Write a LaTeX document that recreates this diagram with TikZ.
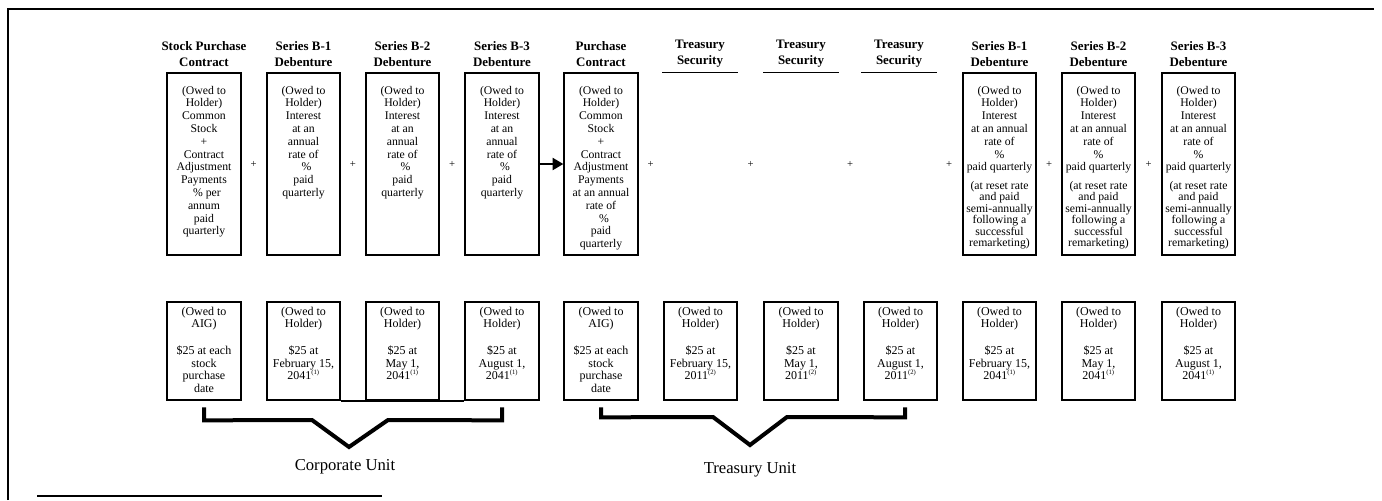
\documentclass[tikz,border=0pt]{standalone}
\usepackage{fontspec}
\setmainfont{Liberation Serif}
\usetikzlibrary{arrows.meta,calc}

\tikzset{
  termbox/.style={draw, line width=1.5pt, minimum width=55pt, minimum height=137pt},
  paybox/.style={draw, line width=1.5pt, minimum width=55pt, minimum height=74pt},
  slot/.style={minimum width=56pt, minimum height=137pt},
  head/.style={font=\bfseries\fontsize{9.7}{12}\selectfont, align=center},
  boxtxt/.style={font=\fontsize{8.8}{9.6}\selectfont, align=center, anchor=north},
  resettxt/.style={font=\fontsize{8.8}{8.6}\selectfont, align=center, anchor=north},
  paytxt/.style={font=\fontsize{9}{9.4}\selectfont, align=center, anchor=north},
  plus/.style={font=\fontsize{8}{8}\selectfont},
  feed/.style={line width=1.5pt, -{Triangle[length=8pt,width=9pt]}},
  bracket/.style={line width=3pt, line join=miter},
  unitname/.style={font=\fontsize{12.5}{14}\selectfont}
}
\newcommand{\fn}[1]{\textsuperscript{\tiny(#1)}}

\begin{document}
\begin{tikzpicture}[x=0.75pt,y=-0.75pt]
\tikzstyle{every node}+=[inner sep=0pt]
\useasboundingbox (0,0) rectangle (1382,500);
% frame and footnote rule
\draw[line width=1.1pt] (8,500) -- (8,9) -- (1374,9);
\draw[line width=1.5pt] (37,496) -- (382,496);

% headings
\node[head] (h1) at (204,54) {Stock Purchase\\Contract};
\node[head] (h2) at (303.5,54) {Series B-1\\Debenture};
\node[head] (h3) at (402.5,54) {Series B-2\\Debenture};
\node[head] (h4) at (502,54) {Series B-3\\Debenture};
\node[head] (h5) at (601,54) {Purchase\\Contract};
\node[head] (h6) at (700,54) {Treasury\\Security};
\node[head] (h7) at (801,54) {Treasury\\Security};
\node[head] (h8) at (899,54) {Treasury\\Security};
\node[head] (h9) at (999.5,54) {Series B-1\\Debenture};
\node[head] (h10) at (1098.5,54) {Series B-2\\Debenture};
\node[head] (h11) at (1198.5,54) {Series B-3\\Debenture};

% upper row: what is paid
\node[termbox] (pc1) at (204,164) {};
\node[termbox] (pc2) at (303.5,164) {};
\node[termbox] (pc3) at (402.5,164) {};
\node[termbox] (pc4) at (502,164) {};
\node[termbox] (pc5) at (601,164) {};
\node[slot] (ts1) at (700,164) {};
\node[slot] (ts2) at (801,164) {};
\node[slot] (ts3) at (899,164) {};
\node[termbox] (pc9) at (999.5,164) {};
\node[termbox] (pc10) at (1098.5,164) {};
\node[termbox] (pc11) at (1198.5,164) {};
\draw[line width=1pt] (ts1.north west) -- (ts1.north east);
\draw[line width=1pt] (ts2.north west) -- (ts2.north east);
\draw[line width=1pt] (ts3.north west) -- (ts3.north east);

\node[boxtxt] (pc1t) at ([yshift=-10.5pt]pc1.north) {(Owed to\\Holder)\\Common\\Stock\\+\\Contract\\Adjustment\\Payments\\\ \ \% per\\annum\\paid\\quarterly};
\node[boxtxt] (pc2t) at ([yshift=-10.5pt]pc2.north) {(Owed to\\Holder)\\Interest\\at an\\annual\\rate of\\\ \ \%\\paid\\quarterly};
\node[boxtxt] (pc3t) at ([yshift=-10.5pt]pc3.north) {(Owed to\\Holder)\\Interest\\at an\\annual\\rate of\\\ \ \%\\paid\\quarterly};
\node[boxtxt] (pc4t) at ([yshift=-10.5pt]pc4.north) {(Owed to\\Holder)\\Interest\\at an\\annual\\rate of\\\ \ \%\\paid\\quarterly};
\node[boxtxt] (pc5t) at ([yshift=-10.5pt]pc5.north) {(Owed to\\Holder)\\Common\\Stock\\+\\Contract\\Adjustment\\Payments\\at an annual\\rate of\\\ \ \%\\paid\\quarterly};
\node[boxtxt] (pc9t) at ([yshift=-10.5pt]pc9.north) {(Owed to\\Holder)\\Interest\\at an annual\\rate of\\\%\\paid quarterly};
\node[boxtxt] (pc10t) at ([yshift=-10.5pt]pc10.north) {(Owed to\\Holder)\\Interest\\at an annual\\rate of\\\%\\paid quarterly};
\node[boxtxt] (pc11t) at ([yshift=-10.5pt]pc11.north) {(Owed to\\Holder)\\Interest\\at an annual\\rate of\\\%\\paid quarterly};
\node[resettxt] (pc9r) at ([yshift=-82pt]pc9.north) {(at reset rate\\and paid\\semi-annually\\following a\\successful\\remarketing)};
\node[resettxt] (pc10r) at ([yshift=-82pt]pc10.north) {(at reset rate\\and paid\\semi-annually\\following a\\successful\\remarketing)};
\node[resettxt] (pc11r) at ([yshift=-82pt]pc11.north) {(at reset rate\\and paid\\semi-annually\\following a\\successful\\remarketing)};

% plus signs and the arrow
\node[plus] (p12) at ($(pc1.east)!.5!(pc2.west)$) {+};
\node[plus] (p23) at ($(pc2.east)!.5!(pc3.west)$) {+};
\node[plus] (p34) at ($(pc3.east)!.5!(pc4.west)$) {+};
\node[plus] (p56) at ($(pc5.east)!.5!(ts1.west)$) {+};
\node[plus] (p67) at ($(ts1.east)!.5!(ts2.west)$) {+};
\node[plus] (p78) at ($(ts2.east)!.5!(ts3.west)$) {+};
\node[plus] (p89) at ($(ts3.east)!.5!(pc9.west)$) {+};
\node[plus] (p910) at ($(pc9.east)!.5!(pc10.west)$) {+};
\node[plus] (p1011) at ($(pc10.east)!.5!(pc11.west)$) {+};
\draw[feed] (pc4.east) -- (pc5.west);

% lower row: what is owed at the end
\node[paybox] (pb1) at (204,351) {};
\node[paybox] (pb2) at (303.5,351) {};
\node[paybox] (pb3) at (402.5,351) {};
\node[paybox] (pb4) at (502,351) {};
\node[paybox] (pb5) at (601,351) {};
\node[paybox] (pb6) at (700.5,351) {};
\node[paybox] (pb7) at (801,351) {};
\node[paybox] (pb8) at (900.5,351) {};
\node[paybox] (pb9) at (999.5,351) {};
\node[paybox] (pb10) at (1098.5,351) {};
\node[paybox] (pb11) at (1198.5,351) {};
\draw[line width=1.5pt] (pb2.south east) -- (pb4.south west);

\node[paytxt] (pb1t) at ([yshift=-4.5pt]pb1.north) {(Owed to\\AIG)\\[10.8pt]\$25 at each\\stock\\purchase\\date};
\node[paytxt] (pb2t) at ([yshift=-4.5pt]pb2.north) {(Owed to\\Holder)\\[10.8pt]\$25 at\\February 15,\\2041\fn{1}};
\node[paytxt] (pb3t) at ([yshift=-4.5pt]pb3.north) {(Owed to\\Holder)\\[10.8pt]\$25 at\\May 1,\\2041\fn{1}};
\node[paytxt] (pb4t) at ([yshift=-4.5pt]pb4.north) {(Owed to\\Holder)\\[10.8pt]\$25 at\\August 1,\\2041\fn{1}};
\node[paytxt] (pb5t) at ([yshift=-4.5pt]pb5.north) {(Owed to\\AIG)\\[10.8pt]\$25 at each\\stock\\purchase\\date};
\node[paytxt] (pb6t) at ([yshift=-4.5pt]pb6.north) {(Owed to\\Holder)\\[10.8pt]\$25 at\\February 15,\\2011\fn{2}};
\node[paytxt] (pb7t) at ([yshift=-4.5pt]pb7.north) {(Owed to\\Holder)\\[10.8pt]\$25 at\\May 1,\\2011\fn{2}};
\node[paytxt] (pb8t) at ([yshift=-4.5pt]pb8.north) {(Owed to\\Holder)\\[10.8pt]\$25 at\\August 1,\\2011\fn{2}};
\node[paytxt] (pb9t) at ([yshift=-4.5pt]pb9.north) {(Owed to\\Holder)\\[10.8pt]\$25 at\\February 15,\\2041\fn{1}};
\node[paytxt] (pb10t) at ([yshift=-4.5pt]pb10.north) {(Owed to\\Holder)\\[10.8pt]\$25 at\\May 1,\\2041\fn{1}};
\node[paytxt] (pb11t) at ([yshift=-4.5pt]pb11.north) {(Owed to\\Holder)\\[10.8pt]\$25 at\\August 1,\\2041\fn{1}};

% unit brackets
\coordinate (cutip) at (349,447);
\coordinate (tutip) at (750,445);
\draw[bracket] ([yshift=-4.5pt]pb1.south) -- ++(0,13) -- (312,420) -- (cutip) -- (388,420) -- ([yshift=-14.25pt]pb4.south) -- ([yshift=-4.5pt]pb4.south);
\draw[bracket] ([yshift=-4.5pt]pb5.south) -- ++(0,10) -- (713,417) -- (tutip) -- (787,417) -- ([xshift=3.5pt,yshift=-12pt]pb8.south) -- ([xshift=3.5pt,yshift=-4.5pt]pb8.south);
\node[unitname] (cuname) at (345,467) {Corporate Unit};
\node[unitname] (tuname) at (750,470) {Treasury Unit};
\end{tikzpicture}
\end{document}
